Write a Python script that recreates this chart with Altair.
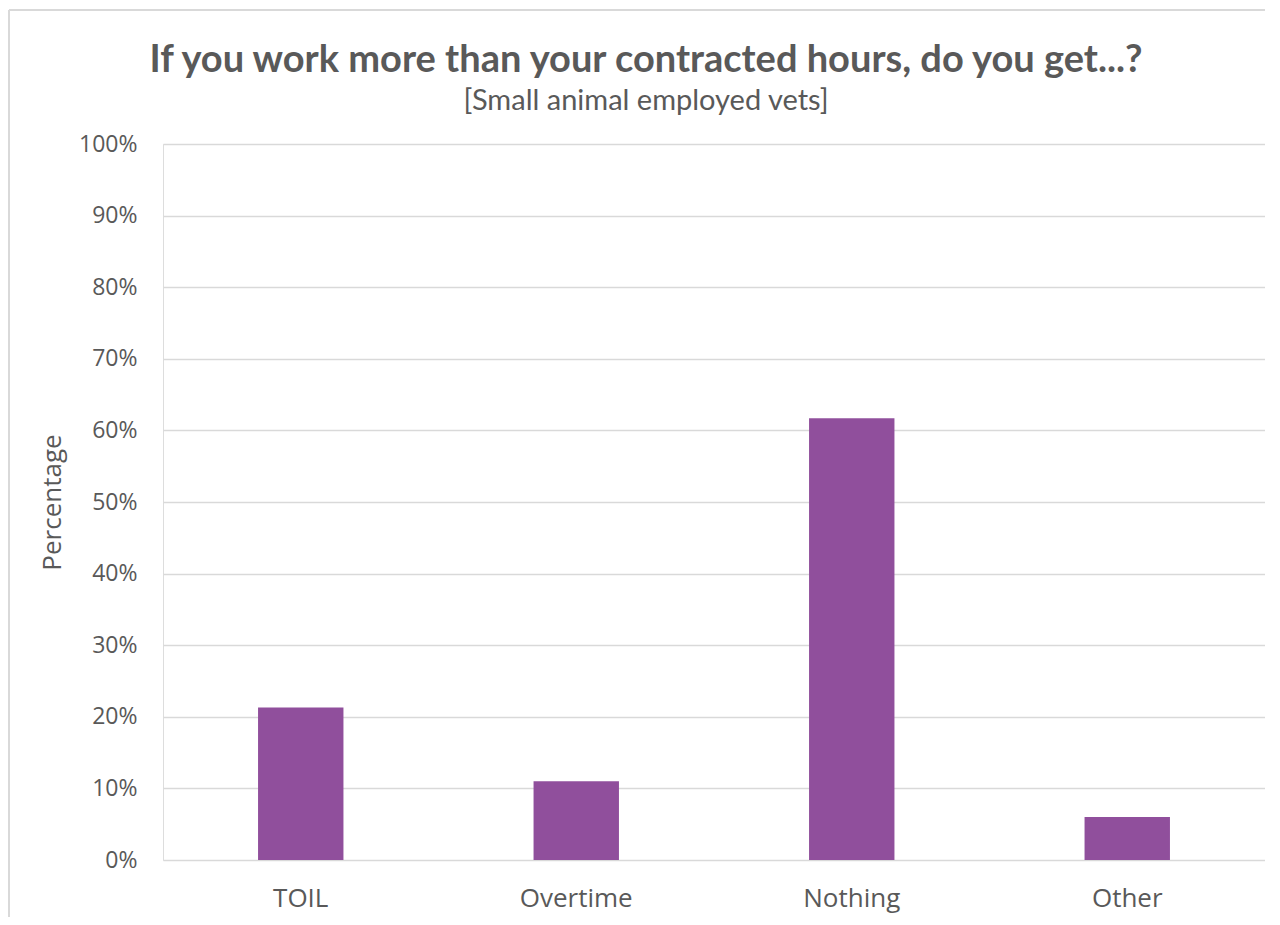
import altair as alt
import pandas as pd

categories = ["TOIL", "Overtime", "Nothing", "Other"]
values = [0.213, 0.110, 0.617, 0.060]
y_ticks = [0, 0.1, 0.2, 0.3, 0.4, 0.5, 0.6, 0.7, 0.8, 0.9, 1.0]

title_text = "If you work more than your contracted hours, do you get...?"
subtitle_text = "[Small animal employed vets]"
y_title = "Percentage"

df = pd.DataFrame({"category": categories, "value": values})

GRAY = "#595959"
GRID = "#d9d9d9"
BAR = "#904F9C"

bars = alt.Chart(df).mark_bar(color=BAR).encode(
    x=alt.X(
        "category:N",
        sort=categories,
        scale=alt.Scale(paddingInner=0.69, paddingOuter=0.345),
        axis=alt.Axis(
            title=None,
            labelAngle=0,
            labelFont="Open Sans",
            labelFontSize=26,
            labelColor=GRAY,
            labelPadding=25,
            ticks=False,
            domain=False,
            grid=False,
        ),
    ),
    y=alt.Y(
        "value:Q",
        scale=alt.Scale(domain=[0, 1]),
        axis=alt.Axis(
            title=y_title,
            titleFont="Open Sans",
            titleFontSize=26,
            titleFontWeight="normal",
            titleColor=GRAY,
            titlePadding=13,
            values=y_ticks,
            format=".0%",
            labelFont="Open Sans",
            labelFontSize=23,
            labelColor=GRAY,
            labelPadding=26,
            ticks=False,
            domain=False,
            grid=True,
            gridColor=GRID,
            gridWidth=1.5,
        ),
    ),
)

frame_top = alt.Chart(df).mark_rule(color=GRID, strokeWidth=2).encode(
    x=alt.value(-154), x2=alt.value(1120), y=alt.value(-134)
)
frame_left = alt.Chart(df).mark_rule(color=GRID, strokeWidth=2).encode(
    x=alt.value(-154), y=alt.value(-134), y2=alt.value(800)
)

chart = (
    alt.layer(frame_top, frame_left, bars)
    .properties(
        width=1102,
        height=716,
        autosize=alt.AutoSizeParams(type="none"),
        padding={"left": 155, "top": 136, "right": 0, "bottom": 57},
        title=alt.TitleParams(
            text=title_text,
            subtitle=subtitle_text,
            anchor="middle",
            frame="group",
            dx=-68,
            offset=-107,
            font="Lato",
            fontSize=38,
            fontWeight="bold",
            color=GRAY,
            subtitleFont="Lato",
            subtitleFontSize=29,
            subtitleColor=GRAY,
            subtitlePadding=7,
        ),
    )
    .configure_view(stroke=None)
    .configure(background="white")
)

chart.save("out.html", embed_options={"renderer": "svg", "actions": False})
